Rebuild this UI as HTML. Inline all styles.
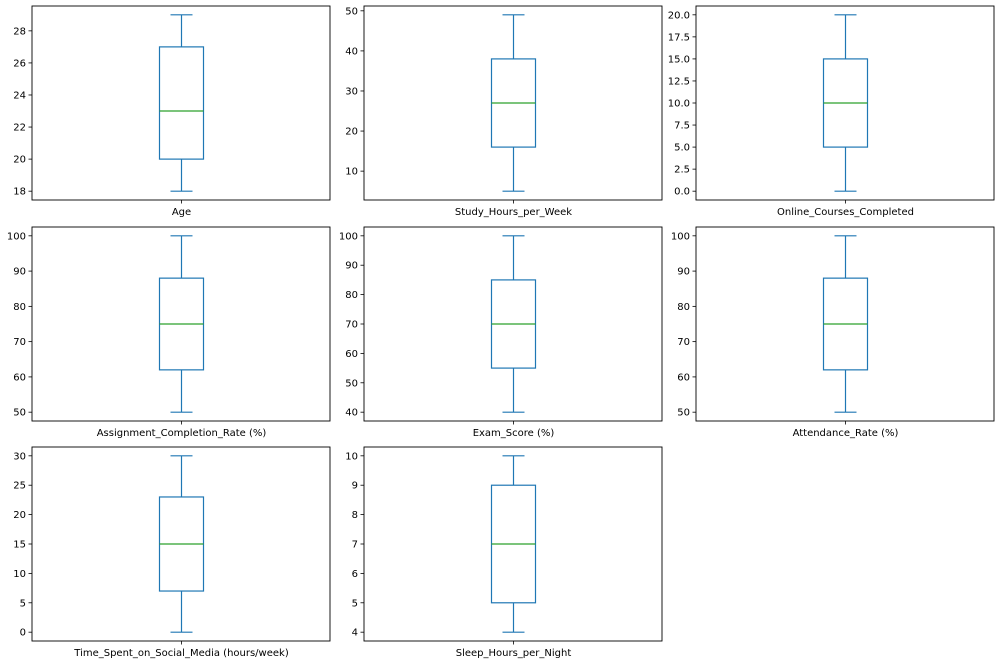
<!DOCTYPE html>
<html><head><meta charset="utf-8"><style>
html,body{margin:0;padding:0;background:#fff;width:1000px;height:664px;overflow:hidden}
svg text{font-family:"DejaVu Sans","Liberation Sans",sans-serif;font-size:10px;fill:#000}
</style></head><body>
<svg id="chart" width="1000" height="664" xmlns="http://www.w3.org/2000/svg"></svg>
<script>
const names = ["Age","Study_Hours_per_Week","Online_Courses_Completed","Assignment_Completion_Rate (%)","Exam_Score (%)","Attendance_Rate (%)","Time_Spent_on_Social_Media (hours/week)","Sleep_Hours_per_Night"];
const mins = [18,5,0,50,40,50,0,4];
const q1s = [20,16,5,62,55,62,7,5];
const medians = [23,27,10,75,70,75,15,7];
const q3s = [27,38,15,88,85,88,23,9];
const maxs = [29,49,20,100,100,100,30,10];
const tickStarts = [18,10,0,50,40,50,0,4];
const tickEnds = [28,50,20,100,100,100,30,10];
const tickSteps = [2,10,2.5,10,10,10,5,1];
const tickDecimals = [0,0,1,0,0,0,0,0];

const svg = document.getElementById('chart');
const NS = "http://www.w3.org/2000/svg";
const colX = [32,364,696], rowY = [6,227,447], W = 298, H = 194;
function mk(tag, attrs, parent){const e=document.createElementNS(NS,tag);for(const k in attrs)e.setAttribute(k,attrs[k]);parent.appendChild(e);return e;}
const blue="#1f77b4", green="#2ca02c";
names.forEach((name,i)=>{
  const x0=colX[i%3], y0=rowY[Math.floor(i/3)];
  const g=mk('g',{},svg);
  
  
  const lo=mins[i], hi=maxs[i], pad=(hi-lo)*0.05, vmin=lo-pad, vmax=hi+pad;
  const y=v=>y0+H-(v-vmin)/(vmax-vmin)*H;
  const cx=x0+W/2+0.5, bw=22, cw=11;
  // ticks
  for(let t=tickStarts[i]; t<=tickEnds[i]+1e-9; t+=tickSteps[i]){
    const yy=y(t);
    const tl=mk('line',{x1:x0-3.5,x2:x0,y1:yy,y2:yy,stroke:'#000','stroke-width':0.8},g);
    
    
    const tx=mk('text',{x:x0-6,y:yy+3.5,'text-anchor':'end'},g);
    
    
    tx.textContent=t.toFixed(tickDecimals[i]);
  }
  const xt=mk('line',{x1:cx,x2:cx,y1:y0+H,y2:y0+H+3.5,stroke:'#000','stroke-width':0.8},g);
  
  
  const lab=mk('text',{x:cx,y:y0+H+15,'text-anchor':'middle'},g);
  
  
  lab.textContent=name;
  // whiskers
  const w1=mk('line',{x1:cx,x2:cx,y1:y(q3s[i]),y2:y(hi),stroke:blue,'stroke-width':1.2},g);
  
  
  const w2=mk('line',{x1:cx,x2:cx,y1:y(q1s[i]),y2:y(lo),stroke:blue,'stroke-width':1.2},g);
  
  
  const c1=mk('line',{x1:cx-cw,x2:cx+cw,y1:y(hi),y2:y(hi),stroke:blue,'stroke-width':1.2},g);
  
  
  const c2=mk('line',{x1:cx-cw,x2:cx+cw,y1:y(lo),y2:y(lo),stroke:blue,'stroke-width':1.2},g);
  
  
  const box=mk('rect',{x:cx-bw,y:y(q3s[i]),width:2*bw,height:y(q1s[i])-y(q3s[i]),fill:'none',stroke:blue,'stroke-width':1.2},g);
  
  
  const md=mk('line',{x1:cx-bw,x2:cx+bw,y1:y(medians[i]),y2:y(medians[i]),stroke:green,'stroke-width':1.2},g);
  
  
  const fr=mk('rect',{x:x0,y:y0,width:W,height:H,fill:'none',stroke:'#000','stroke-width':0.9},g);
  
  
});
</script>
</body></html>
